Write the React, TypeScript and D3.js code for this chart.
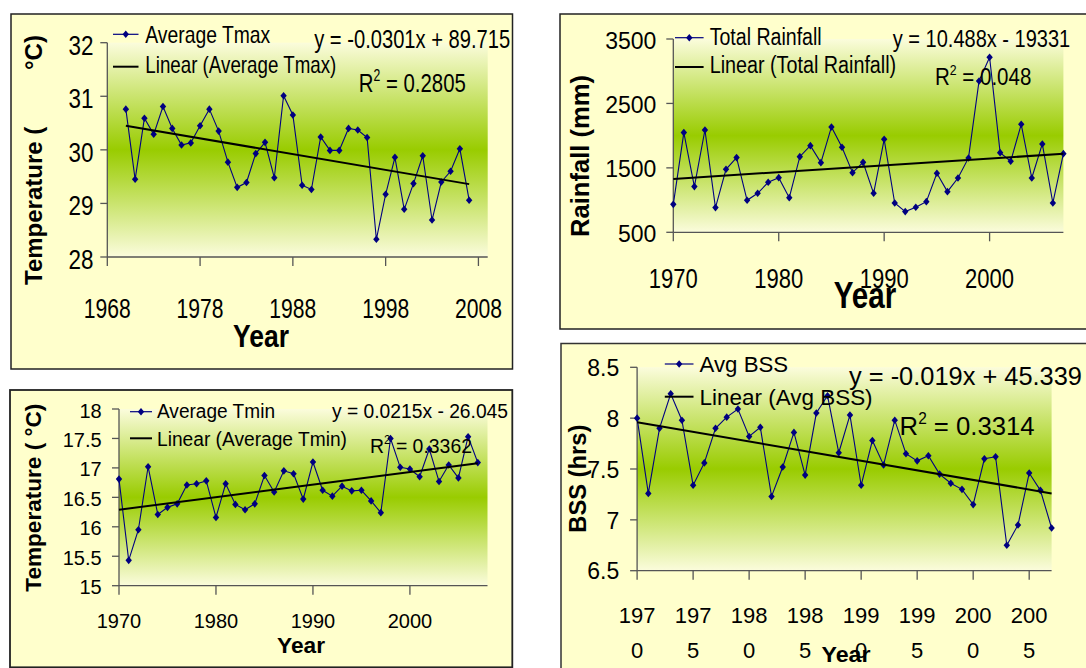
import React from "react";
import * as d3 from "d3";

// ---------- DATA ----------
const years = [1970, 1971, 1972, 1973, 1974, 1975, 1976, 1977, 1978, 1979, 1980, 1981, 1982, 1983, 1984, 1985, 1986, 1987, 1988, 1989, 1990, 1991, 1992, 1993, 1994, 1995, 1996, 1997, 1998, 1999, 2000, 2001, 2002, 2003, 2004, 2005, 2006, 2007];

const tmax = [30.76, 29.45, 30.59, 30.29, 30.81, 30.4, 30.09, 30.13, 30.45, 30.76, 30.35, 29.77, 29.3, 29.39, 29.93, 30.14, 29.48, 31.01, 30.65, 29.34, 29.26, 30.24, 29.99, 29.99, 30.4, 30.37, 30.23, 28.33, 29.17, 29.86, 28.89, 29.37, 29.89, 28.69, 29.4, 29.6, 30.02, 29.06];
const tmaxTrend = [30.45, 29.36];

const rainfall = [934, 2047, 1209, 2088, 883, 1478, 1659, 997, 1105, 1276, 1348, 1038, 1674, 1845, 1581, 2135, 1819, 1426, 1586, 1105, 1943, 955, 821, 888, 976, 1416, 1131, 1343, 1654, 2849, 3216, 1736, 1602, 2176, 1343, 1871, 955, 1721];
const rainTrend = [1328, 1718];

const tmin = [16.81, 15.43, 15.95, 17.02, 16.21, 16.33, 16.39, 16.71, 16.73, 16.78, 16.16, 16.73, 16.38, 16.29, 16.39, 16.87, 16.59, 16.95, 16.9, 16.47, 17.1, 16.62, 16.52, 16.69, 16.61, 16.62, 16.44, 16.24, 17.5, 17.01, 16.98, 16.85, 17.32, 16.77, 17.05, 16.83, 17.53, 17.09];
const tminTrend = [16.29, 17.08];

const bss = [8.0, 7.26, 7.9, 8.24, 7.98, 7.34, 7.56, 7.9, 8.01, 8.09, 7.82, 7.91, 7.23, 7.52, 7.86, 7.44, 8.05, 8.22, 7.66, 8.03, 7.34, 7.78, 7.54, 7.98, 7.65, 7.58, 7.63, 7.45, 7.36, 7.3, 7.15, 7.6, 7.62, 6.75, 6.95, 7.46, 7.29, 6.92];
const bssTrend = [7.96, 7.26];

const tmaxYTicks = [28, 29, 30, 31, 32];
const tmaxXTicks = [1968, 1978, 1988, 1998, 2008];
const rainYTicks = [500, 1500, 2500, 3500];
const rainXTicks = [1970, 1980, 1990, 2000];
const tminYTicks = [15, 15.5, 16, 16.5, 17, 17.5, 18];
const tminXTicks = [1970, 1980, 1990, 2000];
const bssYTicks = [6.5, 7, 7.5, 8, 8.5];
const bssXTicks = [1970, 1975, 1980, 1985, 1990, 1995, 2000, 2005];

const tmaxEq = "y = -0.0301x + 89.715";
const tmaxR2 = "0.2805";
const rainEq = "y = 10.488x - 19331";
const rainR2 = "0.048";
const tminEq = "y = 0.0215x - 26.045";
const tminR2 = "0.3362";
const bssEq = "y = -0.019x + 45.339";
const bssR2 = "0.3314";

// ---------- STYLE ----------
const FONT = "'Liberation Sans', Arial, Helvetica, sans-serif";
const NAVY = "#000080";
const AXIS = "#555555";
const PANEL_BG = "#FFFFCC";

function T({ x, y, size, w, anchor, bold, rot, children }: any) {
  const common: any = {
    fontSize: size,
    fontFamily: FONT,
    fontWeight: bold ? "bold" : "normal",
    textAnchor: anchor || "start",
    fill: "#000",
  };
  const len: any = w ? { textLength: w, lengthAdjust: "spacingAndGlyphs" } : {};
  if (rot) {
    return (
      <text transform={`translate(${x},${y}) rotate(-90)`} {...common} {...len}>
        {children}
      </text>
    );
  }
  return (
    <text x={x} y={y} {...common} {...len}>
      {children}
    </text>
  );
}

function R2({ x, y, size, w, value }: any) {
  const up = size * 0.42;
  return (
    <T x={x} y={y} size={size} w={w}>
      R
      <tspan dy={-up} fontSize={size * 0.6}>
        2
      </tspan>
      <tspan dy={up}>{" = " + value}</tspan>
    </T>
  );
}

const DIAMOND = "M0,-3.8L3.2,0L0,3.8L-3.2,0Z";

function Legend({ x1, x2, y1, y2, tx, ty1, ty2, size, w1, w2, label1, label2 }: any) {
  return (
    <g>
      <line x1={x1} x2={x2} y1={y1} y2={y1} stroke={NAVY} strokeWidth={1.2} />
      <path d={DIAMOND} transform={`translate(${(x1 + x2) / 2},${y1})`} fill={NAVY} />
      <line x1={x1} x2={x2} y1={y2} y2={y2} stroke="#000" strokeWidth={2} />
      <T x={tx} y={ty1} size={size} w={w1}>
        {label1}
      </T>
      <T x={tx} y={ty2} size={size} w={w2}>
        {label2}
      </T>
    </g>
  );
}

function Plot(p: any) {
  const x = d3.scaleLinear().domain(p.xd).range(p.xr);
  const y = d3.scaleLinear().domain(p.yd).range(p.yr);
  const line = d3
    .line<[number, number]>()
    .x((d) => x(d[0]))
    .y((d) => y(d[1]));
  const pts: [number, number][] = years.map((yr, i) => [yr, p.vals[i]]);
  const tr: [number, number][] = [
    [years[0], p.trend[0]],
    [years[years.length - 1], p.trend[1]],
  ];
  const x0 = p.xr[0];
  const y0 = p.yr[0];
  return (
    <g>
      <rect
        x={p.xr[0]}
        y={p.yr[1]}
        width={p.xr[1] - p.xr[0]}
        height={p.yr[0] - p.yr[1]}
        fill="url(#plotGrad)"
      />
      <line x1={x0} x2={x0} y1={p.yr[1]} y2={p.yr[0]} stroke={AXIS} strokeWidth={1.3} />
      <line x1={p.xr[0]} x2={p.xr[1]} y1={y0} y2={y0} stroke={AXIS} strokeWidth={1.3} />
      {p.yTicks.map((t: number) => (
        <line key={"yt" + t} x1={x0 - 7} x2={x0} y1={y(t)} y2={y(t)} stroke={AXIS} strokeWidth={1.3} />
      ))}
      {p.xTicks.map((t: number) => (
        <line key={"xt" + t} x1={x(t)} x2={x(t)} y1={y0} y2={y0 + 9} stroke={AXIS} strokeWidth={1.3} />
      ))}
      {p.yTicks.map((t: number) => (
        <T key={"yl" + t} x={p.yLabX} y={y(t) + p.yLabDy} size={p.yLabSize} w={p.yLabW} anchor="end">
          {String(t)}
        </T>
      ))}
      {p.xTicks.map((t: number) =>
        p.xSplit ? (
          <g key={"xl" + t}>
            <T x={x(t)} y={p.xLabY} size={p.xLabSize} anchor="middle">
              {String(t).slice(0, 3)}
            </T>
            <T x={x(t)} y={p.xLabY2} size={p.xLabSize} anchor="middle">
              {String(t).slice(3)}
            </T>
          </g>
        ) : (
          <T key={"xl" + t} x={x(t)} y={p.xLabY} size={p.xLabSize} w={p.xLabW} anchor="middle">
            {String(t)}
          </T>
        )
      )}
      <path d={line(pts) || ""} fill="none" stroke={NAVY} strokeWidth={1.1} />
      {pts.map((d, i) => (
        <path key={"m" + i} d={DIAMOND} transform={`translate(${x(d[0])},${y(d[1])})`} fill={NAVY} />
      ))}
      <path d={line(tr) || ""} fill="none" stroke="#000" strokeWidth={2} />
    </g>
  );
}

export default function App() {
  return (
    <svg
      width={1086}
      height={668}
      style={{ position: "absolute", left: 0, top: 0, background: "#fff" }}
    >
      <defs>
        <linearGradient id="plotGrad" x1="0" y1="0" x2="0" y2="1">
          <stop offset="0" stopColor="#fbfcdc" />
          <stop offset="0.5" stopColor="#99cc00" />
          <stop offset="1" stopColor="#fbfcdc" />
        </linearGradient>
      </defs>

      {/* Panel 1: Tmax */}
      <rect x={11} y={14} width={501.5} height={355} fill={PANEL_BG} stroke="#222" strokeWidth={1.5} />
      <Plot
        xd={[1968, 2009]}
        xr={[107.3, 487.7]}
        yd={[28, 32]}
        yr={[257, 42.7]}
        xTicks={tmaxXTicks}
        yTicks={tmaxYTicks}
        vals={tmax}
        trend={tmaxTrend}
        yLabX={93.5}
        yLabDy={12}
        yLabSize={27}
        yLabW={25}
        xLabY={318}
        xLabSize={27}
        xLabW={47}
      />
      <Legend
        x1={113}
        x2={138.5}
        y1={34.3}
        y2={66.7}
        tx={145.3}
        ty1={42.5}
        ty2={73.3}
        size={24}
        w1={125}
        w2={191}
        label1="Average Tmax"
        label2="Linear (Average Tmax)"
      />
      <T x={314.2} y={48.3} size={26} w={196}>
        {tmaxEq}
      </T>
      <R2 x={358.8} y={91.7} size={26} w={107} value={tmaxR2} />
      <T x={42} y={285} size={24} bold rot>
        Temperature (
      </T>
      <T x={42} y={70} size={24} bold rot>
        °C)
      </T>
      <T x={261} y={347} size={31} bold w={56} anchor="middle">
        Year
      </T>

      {/* Panel 2: Rainfall */}
      <rect x={560} y={14} width={540} height={315} fill={PANEL_BG} stroke="#222" strokeWidth={1.5} />
      <Plot
        xd={[1970, 2007]}
        xr={[673.3, 1063.4]}
        yd={[500, 3500]}
        yr={[232.3, 39]}
        xTicks={rainXTicks}
        yTicks={rainYTicks}
        vals={rainfall}
        trend={rainTrend}
        yLabX={656.4}
        yLabDy={9.5}
        yLabSize={23}
        xLabY={288.3}
        xLabSize={28}
        xLabW={49}
      />
      <Legend
        x1={675}
        x2={703.6}
        y1={37.7}
        y2={67}
        tx={709.7}
        ty1={45}
        ty2={73.3}
        size={23}
        w1={112}
        w2={186.5}
        label1="Total Rainfall"
        label2="Linear (Total Rainfall)"
      />
      <T x={892.8} y={47} size={23} w={177.4}>
        {rainEq}
      </T>
      <R2 x={935} y={85} size={23} w={96.3} value={rainR2} />
      <T x={589} y={237} size={26} bold rot w={162}>
        Rainfall (mm)
      </T>
      <T x={865} y={308.3} size={36} bold w={62.5} anchor="middle">
        Year
      </T>

      {/* Panel 3: Tmin */}
      <rect x={10} y={390} width={502.3} height={277.3} fill={PANEL_BG} stroke="#222" strokeWidth={1.8} />
      <Plot
        xd={[1970, 2008]}
        xr={[119, 487.5]}
        yd={[15, 18]}
        yr={[585.7, 409]}
        xTicks={tminXTicks}
        yTicks={tminYTicks}
        vals={tmin}
        trend={tminTrend}
        yLabX={101.7}
        yLabDy={8.5}
        yLabSize={20}
        xLabY={628}
        xLabSize={20}
      />
      <Legend
        x1={130}
        x2={152}
        y1={411.7}
        y2={438.3}
        tx={157}
        ty1={418}
        ty2={445.7}
        size={19.5}
        w1={118}
        w2={190}
        label1="Average Tmin"
        label2="Linear (Average Tmin)"
      />
      <T x={332} y={418} size={19.5} w={176}>
        {tminEq}
      </T>
      <R2 x={370} y={453.3} size={21} w={102} value={tminR2} />
      <T x={40.5} y={591.7} size={22} bold rot w={188}>
        Temperature ( °C)
      </T>
      <T x={301} y={653} size={22} bold w={48} anchor="middle">
        Year
      </T>

      {/* Panel 4: BSS */}
      <rect x={561} y={343.5} width={540} height={340} fill={PANEL_BG} stroke="#333" strokeWidth={1.5} />
      <Plot
        xd={[1970, 2007]}
        xr={[637.1, 1051.6]}
        yd={[6.5, 8.5]}
        yr={[570.7, 367.3]}
        xTicks={bssXTicks}
        yTicks={bssYTicks}
        vals={bss}
        trend={bssTrend}
        yLabX={619.2}
        yLabDy={8.7}
        yLabSize={23}
        xSplit
        xLabY={623.3}
        xLabY2={658.3}
        xLabSize={22}
      />
      <Legend
        x1={664.8}
        x2={693.5}
        y1={364}
        y2={396.7}
        tx={699.6}
        ty1={371.7}
        ty2={405}
        size={22}
        w1={88.5}
        w2={173}
        label1="Avg BSS"
        label2="Linear (Avg BSS)"
      />
      <T x={849} y={385} size={25} w={233}>
        {bssEq}
      </T>
      <R2 x={899.6} y={435} size={26} w={135} value={bssR2} />
      <T x={585.5} y={532.7} size={24} bold rot w={108}>
        BSS (hrs)
      </T>
      <T x={846} y={661.7} size={22} bold w={49} anchor="middle">
        Year
      </T>
    </svg>
  );
}
